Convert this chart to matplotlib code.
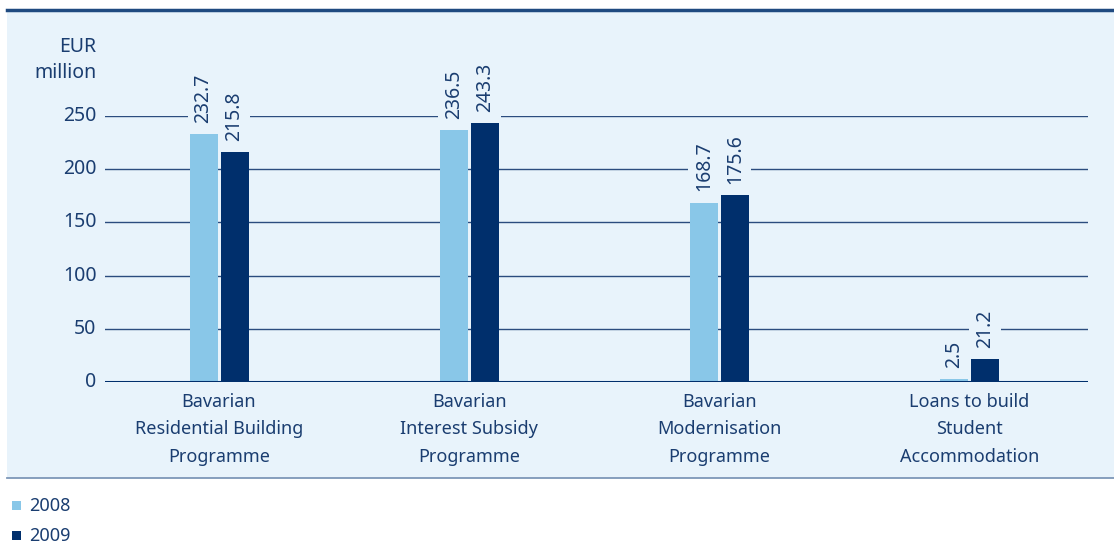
import matplotlib.pyplot as plt
from matplotlib.patches import Rectangle
from matplotlib.lines import Line2D
import numpy as np

# ---- data ----
categories = ["Bavarian\nResidential Building\nProgramme",
              "Bavarian\nInterest Subsidy\nProgramme",
              "Bavarian\nModernisation\nProgramme",
              "Loans to build\nStudent\nAccommodation"]
values_2008 = [232.7, 236.5, 168.7, 2.5]
values_2009 = [215.8, 243.3, 175.6, 21.2]
years = ["2008", "2009"]
yticks = [0, 50, 100, 150, 200, 250]

# ---- style ----
PANEL = '#E8F3FB'
LIGHT = '#89C7E8'
DARK = '#002F6C'
TXT = '#1A3D70'
FS = 14
plt.rcParams['font.family'] = ['Noto Sans', 'DejaVu Sans']
plt.rcParams['font.size'] = FS

W, H = 1114, 544
fig = plt.figure(figsize=(W / 100, H / 100), dpi=100)


def px(x, y):
    # figure pixel (from top-left) -> figure fraction
    return x / W, 1 - y / H


# background panel + borders
x0, y0 = px(7, 478)
fig.patches.append(Rectangle((x0, y0), 1 - x0, (478 - 10) / H, transform=fig.transFigure,
                             facecolor=PANEL, edgecolor='none', zorder=-5))
fig.lines.append(Line2D([7 / W, 1], [1 - 10 / H] * 2, transform=fig.transFigure,
                        color='#1F4A80', lw=2.5))
fig.lines.append(Line2D([7 / W, 1], [1 - 478 / H] * 2, transform=fig.transFigure,
                        color='#7D97B8', lw=1.3))

# axes: x 105..1088 px, y 0 at 382 px, 250 at 116 px
ax = fig.add_axes([105 / W, (H - 382) / H, (1088 - 105) / W, (382 - 116) / H])
ax.set_facecolor('none')
ax.set_xlim(-0.456, 3.474)
ax.set_ylim(0, 250)
for s in ax.spines.values():
    s.set_visible(False)
ax.set_xticks([])
ax.set_yticks([])

for t in yticks[1:]:
    ax.axhline(t, color='#2B4C7E', lw=1.0, zorder=1)
ax.axhline(0, color=DARK, lw=2.2, zorder=4)
for t in yticks:
    ax.text(-0.49, t, str(t), ha='right', va='center', color=TXT, fontsize=FS)

ax.text(-0.49, 303, "EUR\nmillion", ha='right', va='center', color=TXT, fontsize=FS,
        linespacing=1.4, clip_on=False)

x = np.arange(len(categories))
bw = 0.112
off = 0.062
b1 = ax.bar(x - off, values_2008, bw, color=LIGHT, zorder=3)
b2 = ax.bar(x + off, values_2009, bw, color=DARK, zorder=3)

for bars, vals in ((b1, values_2008), (b2, values_2009)):
    for b, v in zip(bars, vals):
        ax.annotate(f"{v:.1f}", (b.get_x() + b.get_width() / 2, v), xytext=(0, 8),
                    textcoords='offset points', rotation=90, ha='center', va='bottom',
                    color=TXT, fontsize=FS, zorder=5, annotation_clip=False,
                    bbox=dict(boxstyle='square,pad=0.3', facecolor=PANEL, edgecolor='none'))

for xi, lab in zip(x, categories):
    ax.text(xi, -10, lab, ha='center', va='top', color=TXT, fontsize=13,
            linespacing=1.7, clip_on=False)

# legend below the panel
for i, (yr, c) in enumerate(zip(years, [LIGHT, DARK])):
    yy = 506 + i * 30
    lx, ly = px(12, yy + 4)
    fig.patches.append(Rectangle((lx, ly), 9 / W, 9 / H, transform=fig.transFigure,
                                 facecolor=c, edgecolor='none'))
    tx, ty = px(29, yy)
    fig.text(tx, ty, yr, ha='left', va='center', color=TXT, fontsize=13)

fig.savefig('out.png', dpi=100)
